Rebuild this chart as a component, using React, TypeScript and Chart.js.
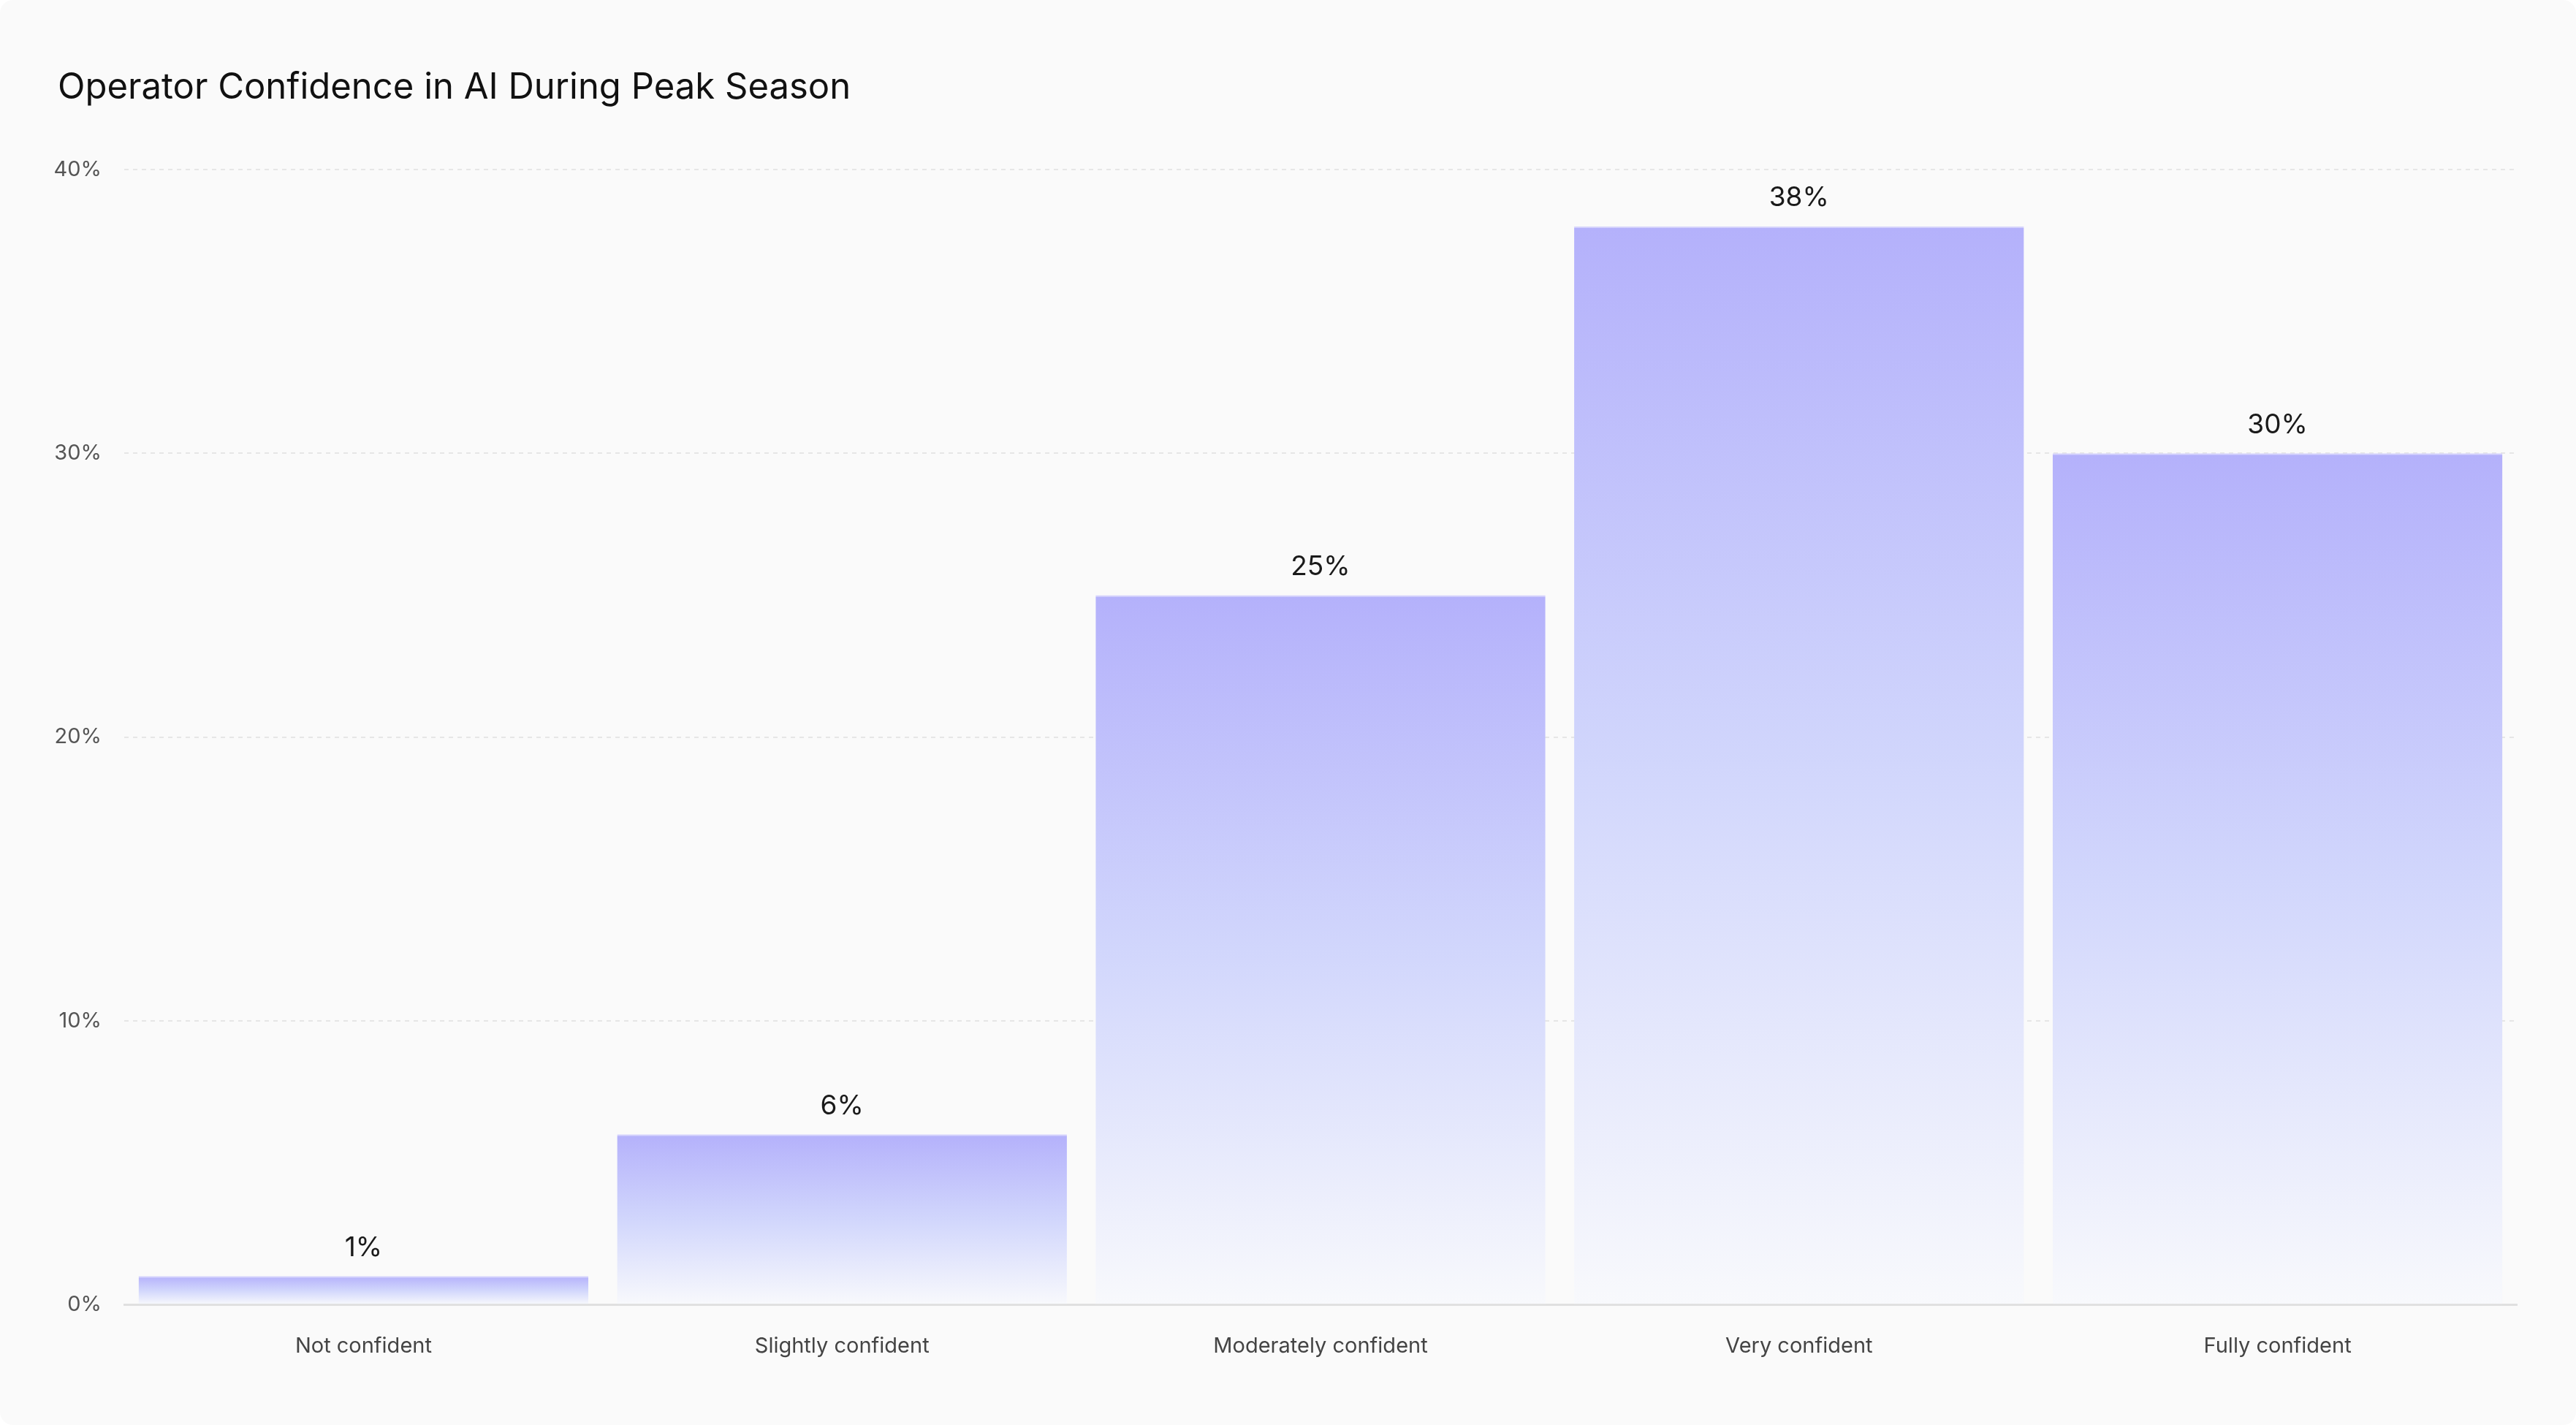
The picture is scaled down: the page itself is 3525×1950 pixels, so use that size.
import { useEffect, useRef } from "react";
import Chart from "chart.js/auto";

const categories = [
    "Not confident",
    "Slightly confident",
    "Moderately confident",
    "Very confident",
    "Fully confident",
];
const shares = [1, 6, 25, 38, 30];
const yTicks = [0, 10, 20, 30, 40];
const chartTitle = "Operator Confidence in AI During Peak Season";

const FONT = "Inter, 'Noto Sans', sans-serif";

// title drawn by hand so it can sit left of the y-axis labels
const titleText = {
    id: "titleText",
    afterDraw(chart: Chart) {
        const { ctx } = chart;
        ctx.save();
        ctx.font = `49px ${FONT}`;
        ctx.fillStyle = "#111111";
        ctx.textAlign = "left";
        ctx.textBaseline = "alphabetic";
        ctx.fillText(chartTitle, 79, 135);
        ctx.restore();
    },
};

const valueLabels = {
    id: "valueLabels",
    afterDatasetsDraw(chart: Chart) {
        const { ctx } = chart;
        const meta = chart.getDatasetMeta(0);
        ctx.save();
        ctx.font = `37px ${FONT}`;
        ctx.fillStyle = "#1a1a1a";
        ctx.textAlign = "center";
        ctx.textBaseline = "bottom";
        meta.data.forEach((bar, i) => {
            ctx.fillText(`${shares[i]}%`, bar.x, bar.y - 20);
        });
        ctx.restore();
    },
};

export default function App() {
    const canvasRef = useRef<HTMLCanvasElement | null>(null);
    const chartInstance = useRef<Chart | null>(null);

    useEffect(() => {
        document.body.style.margin = "0";
        document.body.style.background = "#ffffff";

        if (chartInstance.current) {
            chartInstance.current.destroy();
        }
        if (!canvasRef.current) return;
        const ctx = canvasRef.current.getContext("2d");
        if (!ctx) return;

        chartInstance.current = new Chart(ctx, {
            type: "bar",
            data: {
                labels: categories,
                datasets: [
                    {
                        label: "Share of operators",
                        data: shares,
                        categoryPercentage: 1,
                        barPercentage: 0.94,
                        borderWidth: { top: 2, left: 0, right: 0, bottom: 0 },
                        borderColor: "#d6d4fd",
                        borderSkipped: "start",
                        backgroundColor: (c: any) => {
                            const chart = c.chart;
                            if (!chart.chartArea || c.type !== "data") return "#b4b1fb";
                            const y = chart.scales.y;
                            const top = y.getPixelForValue(shares[c.dataIndex]);
                            const base = y.getPixelForValue(0);
                            const g = chart.ctx.createLinearGradient(0, top, 0, base);
                            g.addColorStop(0, "#b4b1fb");
                            g.addColorStop(0.5, "#d1d6fc");
                            g.addColorStop(1, "#f8f9fc");
                            return g;
                        },
                    },
                ],
            },
            options: {
                responsive: true,
                maintainAspectRatio: false,
                animation: false,
                layout: { padding: { left: 40, right: 81, top: 232, bottom: 50 } },
                plugins: {
                    legend: { display: false },
                    tooltip: { enabled: false },
                    title: { display: false },
                },
                scales: {
                    x: {
                        grid: { display: false, drawTicks: false },
                        border: { display: true, color: "#e0e0e0", width: 3 },
                        ticks: {
                            color: "#444444",
                            padding: 40,
                            font: { family: FONT, size: 29, lineHeight: 1.2 },
                        },
                    },
                    y: {
                        min: 0,
                        max: 40,
                        afterFit: (scale: any) => {
                            scale.width = 130;
                        },
                        afterBuildTicks: (scale: any) => {
                            scale.ticks = yTicks.map(v => ({ value: v }));
                        },
                        grid: { color: "#e6e6e6", lineWidth: 2, drawTicks: false },
                        border: { display: false, dash: [6, 6] },
                        ticks: {
                            color: "#555555",
                            padding: 31,
                            font: { family: FONT, size: 29 },
                            callback: (v: any) => `${v}%`,
                        },
                    },
                },
            },
            plugins: [valueLabels, titleText],
        });

        return () => {
            if (chartInstance.current) {
                chartInstance.current.destroy();
                chartInstance.current = null;
            }
        };
    }, []);

    return (
        <div
            style={{
                width: 3525,
                height: 1950,
                background: "#fafafa",
                borderRadius: 18,
                overflow: "hidden",
            }}
        >
            <canvas ref={canvasRef} />
        </div>
    );
}
